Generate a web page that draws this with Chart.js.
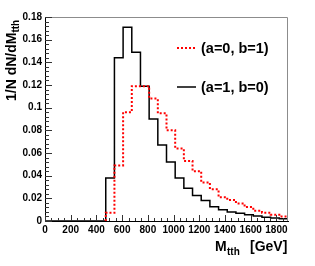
<!DOCTYPE html>
<html>
<head>
<meta charset="utf-8">
<script src="https://cdn.jsdelivr.net/npm/chart.js@4"></script>
<style>
  body { margin: 0; background: #fff; }
  canvas { display: block; }
</style>
</head>
<body>
<canvas id="myChart" width="315" height="266"></canvas>
<script>
// bin edges in GeV (28 bins of 67.5), last entry closes the last bin
const binEdges = [0, 67.5, 135, 202.5, 270, 337.5, 405, 472.5, 540, 607.5, 675, 742.5, 810, 877.5,
  945, 1012.5, 1080, 1147.5, 1215, 1282.5, 1350, 1417.5, 1485, 1552.5, 1620, 1687.5, 1755, 1822.5, 1890];

// (a=0, b=1) - red dotted
const redValues = [0, 0, 0, 0, 0, 0, 0, 0.0073, 0.049, 0.096, 0.119, 0.119, 0.108, 0.095,
  0.080, 0.064, 0.053, 0.044, 0.034, 0.028, 0.021, 0.0185, 0.0155, 0.0123, 0.009, 0.0073, 0.0055, 0.004];

// (a=1, b=0) - black solid
const blackValues = [0, 0, 0, 0, 0, 0, 0, 0.038, 0.144, 0.171, 0.149, 0.119, 0.090, 0.067,
  0.052, 0.038, 0.029, 0.0225, 0.018, 0.0125, 0.010, 0.008, 0.0068, 0.0056, 0.0044, 0.0034, 0.0026, 0.002];

const seriesLabels = ["(a=0, b=1)", "(a=1, b=0)"];

const xTickValues = [0, 200, 400, 600, 800, 1000, 1200, 1400, 1600, 1800];
const xTickLabels = ["0", "200", "400", "600", "800", "1000", "1200", "1400", "1600", "1800"];
const yTickValues = [0, 0.02, 0.04, 0.06, 0.08, 0.1, 0.12, 0.14, 0.16, 0.18];
const yTickLabels = ["0", "0.02", "0.04", "0.06", "0.08", "0.1", "0.12", "0.14", "0.16", "0.18"];

const FONT = "'Liberation Sans', Arial, Helvetica, sans-serif";

// step points at bin edges; skipLeadingZeros leaves out the empty bins before the first filled one
function histPoints(values, skipLeadingZeros) {
  const pts = [];
  let started = !skipLeadingZeros;
  binEdges.forEach(function (x, i) {
    const v = values[Math.min(i, values.length - 1)];
    if (!started) {
      if (v === 0) return;
      started = true;
      pts.push({ x: x, y: 0 });
    }
    pts.push({ x: x, y: v });
  });
  return pts;
}

// ROOT style frame: inner ticks, grey top/right border, legend and axis titles
const rootStyle = {
  id: "rootStyle",
  afterDraw: function (chart) {
    const ctx = chart.ctx;
    const a = chart.chartArea;
    const xs = chart.scales.x;
    const ys = chart.scales.y;
    ctx.save();

    // top and right frame
    ctx.strokeStyle = "#8c8c8c";
    ctx.lineWidth = 1;
    ctx.beginPath();
    ctx.moveTo(a.left, a.top + 0.5);
    ctx.lineTo(a.right - 0.5, a.top + 0.5);
    ctx.lineTo(a.right - 0.5, a.bottom);
    ctx.stroke();

    // inner ticks
    ctx.strokeStyle = "#333";
    ctx.beginPath();
    for (let v = 0; v <= 1850; v += 50) {
      const px = Math.round(xs.getPixelForValue(v)) + 0.5;
      const len = v % 200 === 0 ? 6 : 3;
      ctx.moveTo(px, a.bottom);
      ctx.lineTo(px, a.bottom - len);
    }
    for (let k = 0; k <= 45; k++) {
      const py = Math.round(ys.getPixelForValue(k * 0.004)) + 0.5;
      const len = k % 5 === 0 ? 7 : 4;
      ctx.moveTo(a.left, py);
      ctx.lineTo(a.left + len, py);
    }
    ctx.stroke();

    // legend
    const items = chart.data.datasets;
    const legendY = [48, 87];
    items.forEach(function (ds, i) {
      ctx.strokeStyle = ds.borderColor;
      ctx.lineWidth = ds.borderWidth;
      ctx.setLineDash(ds.borderDash || []);
      ctx.beginPath();
      ctx.moveTo(177, legendY[i]);
      ctx.lineTo(196, legendY[i]);
      ctx.stroke();
      ctx.setLineDash([]);
      ctx.fillStyle = "#000";
      ctx.font = "bold 14.5px " + FONT;
      ctx.textBaseline = "middle";
      ctx.textAlign = "left";
      ctx.fillText(ds.label, 201, legendY[i] + 1);
    });

    // x title
    ctx.fillStyle = "#000";
    ctx.textBaseline = "alphabetic";
    ctx.font = "bold 14px " + FONT;
    ctx.fillText("M", 215, 251);
    ctx.font = "bold 10px " + FONT;
    ctx.fillText("tth", 227, 255);
    ctx.font = "bold 14px " + FONT;
    ctx.fillText("[GeV]", 250, 251);

    // y title
    ctx.translate(16, 101);
    ctx.rotate(-Math.PI / 2);
    ctx.font = "bold 14px " + FONT;
    const main = "1/N dN/dM";
    ctx.fillText(main, 0, 0);
    const w = ctx.measureText(main).width;
    ctx.font = "bold 10px " + FONT;
    ctx.fillText("tth", w, 3);

    ctx.restore();
  },
};

const ctx = document.getElementById("myChart").getContext("2d");
const chart = new Chart(ctx, {
  type: "line",
  data: {
    datasets: [
      {
        label: seriesLabels[0],
        data: histPoints(redValues, true),
        borderColor: "#ff0000",
        borderWidth: 2,
        borderDash: [2, 2],
        stepped: "before",
        pointRadius: 0,
        fill: false,
      },
      {
        label: seriesLabels[1],
        data: histPoints(blackValues, false),
        borderColor: "#000000",
        borderWidth: 1.5,
        stepped: "before",
        pointRadius: 0,
        fill: false,
      },
    ],
  },
  options: {
    responsive: false,
    animation: false,
    layout: { padding: { top: 17, right: 27, left: 0, bottom: 0 } },
    plugins: {
      legend: { display: false },
      tooltip: { enabled: false },
    },
    scales: {
      x: {
        type: "linear",
        min: 0,
        max: 1890,
        afterBuildTicks: function (scale) {
          scale.ticks = xTickValues.map(function (v) { return { value: v }; });
        },
        afterFit: function (scale) { scale.height = 45; },
        ticks: {
          padding: 3,
          maxRotation: 0,
          autoSkip: false,
          color: "#000",
          font: { family: FONT, size: 10, weight: "bold" },
          callback: function (v, i) { return xTickLabels[i]; },
        },
        grid: { display: false, drawTicks: false },
        border: { display: true, color: "#000", width: 1 },
      },
      y: {
        min: 0,
        max: 0.18,
        afterBuildTicks: function (scale) {
          scale.ticks = yTickValues.map(function (v) { return { value: v }; });
        },
        afterFit: function (scale) { scale.width = 45; },
        ticks: {
          padding: 3,
          autoSkip: false,
          color: "#000",
          font: { family: FONT, size: 10, weight: "bold" },
          callback: function (v, i) { return yTickLabels[i]; },
        },
        grid: { display: false, drawTicks: false },
        border: { display: true, color: "#000", width: 1 },
      },
    },
  },
  plugins: [rootStyle],
});
</script>
</body>
</html>
